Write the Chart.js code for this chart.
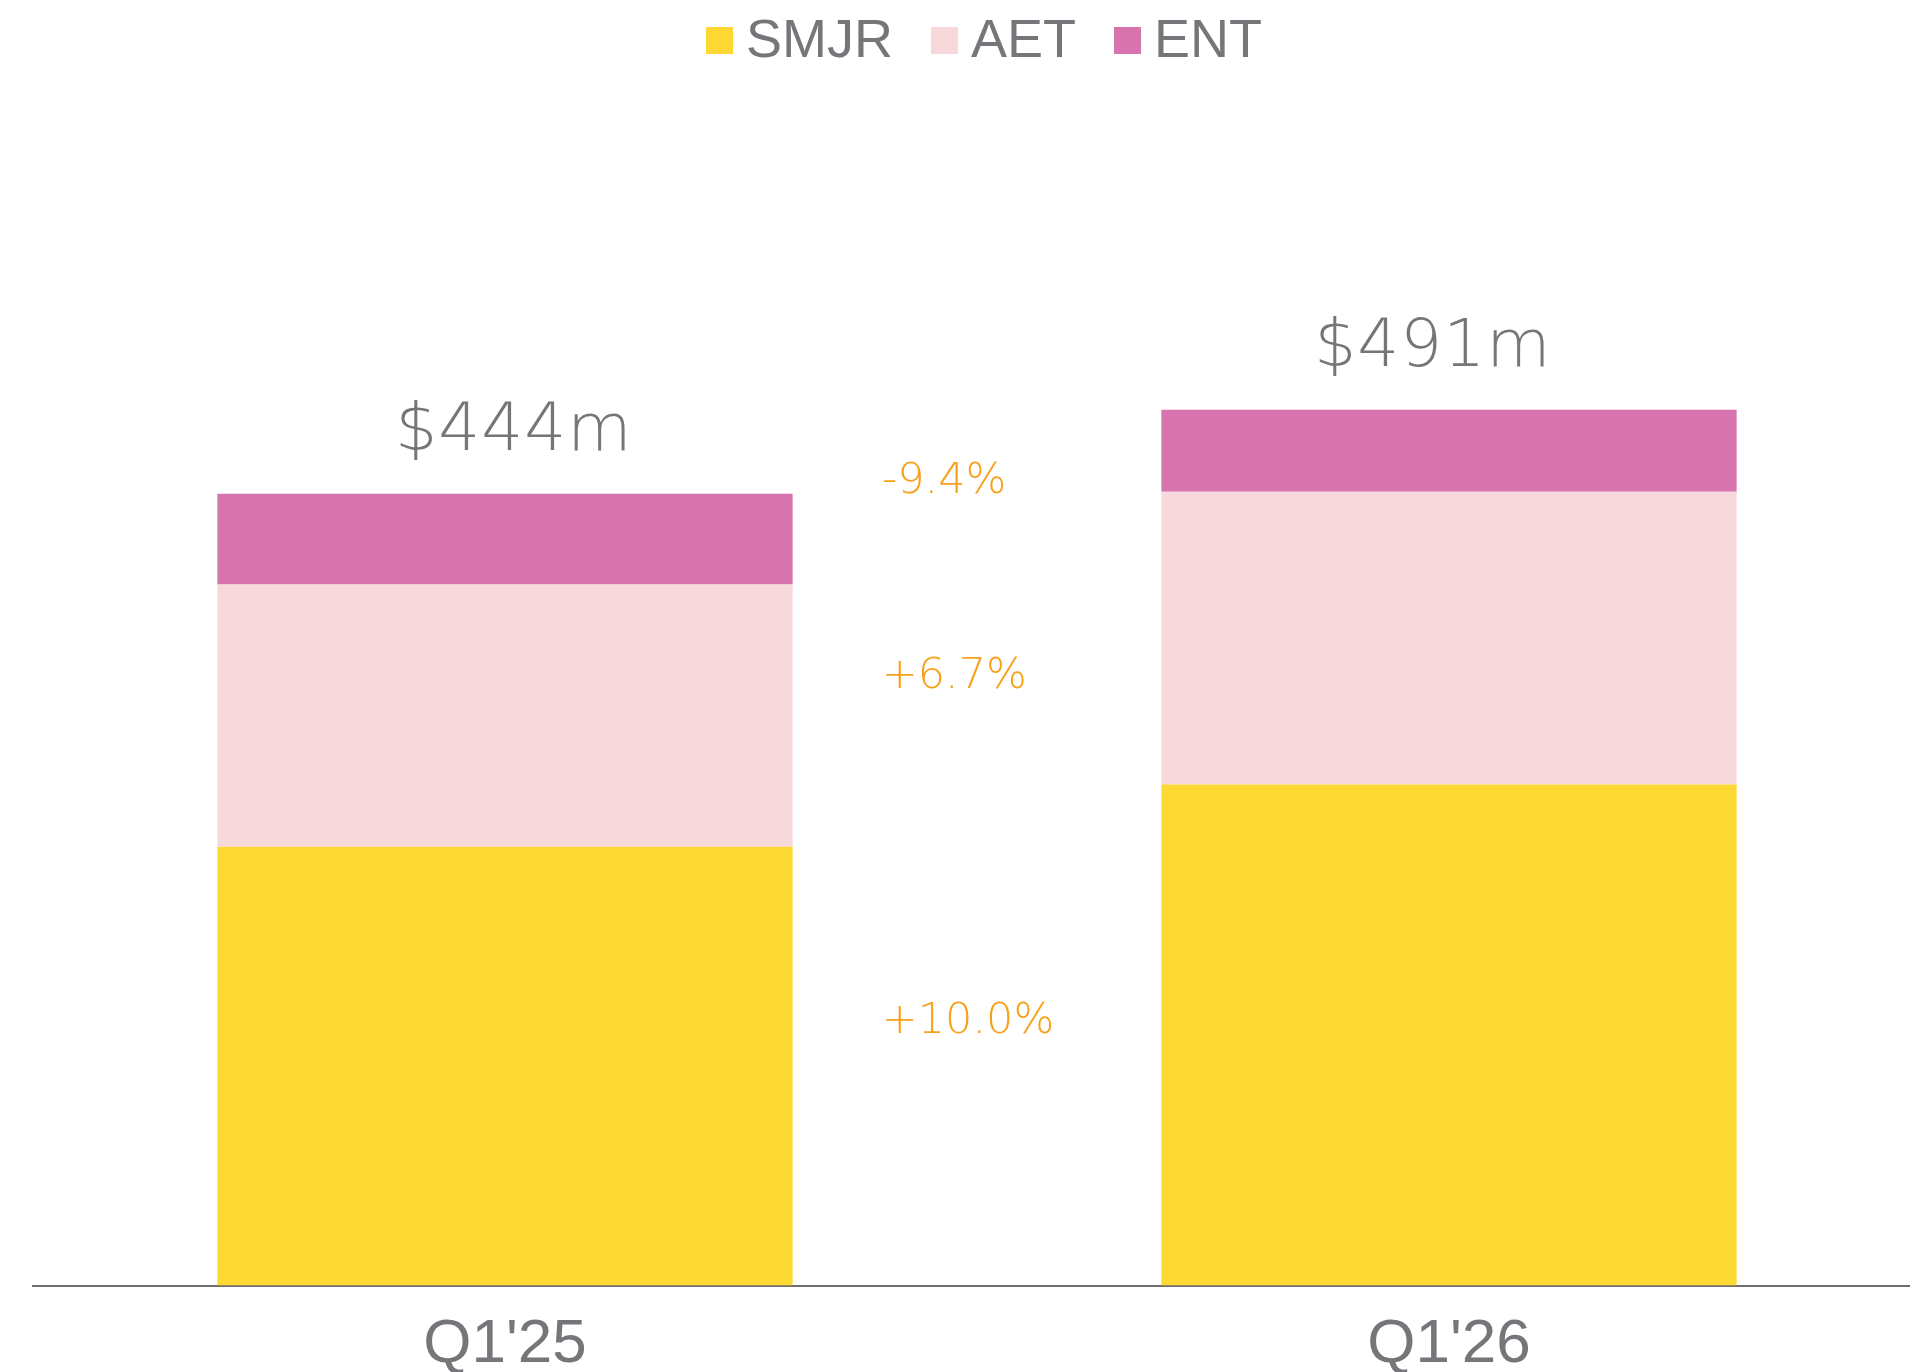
<!DOCTYPE html>
<html>
<head>
<meta charset="utf-8">
<title>Revenue by segment</title>
<script src="https://cdn.jsdelivr.net/npm/chart.js@4.4.1/dist/chart.umd.min.js"></script>
<style>
  html, body { margin: 0; padding: 0; background: #fff; overflow: hidden; }
  .wrap { position: relative; width: 1921px; height: 1404px; }
</style>
</head>
<body>
<div class="wrap"><canvas id="segmentChart" width="1921" height="1404"></canvas></div>
<script>
// Segment revenue, $m
const quarters = ["Q1'25", "Q1'26"];
const smjr = [246, 281];
const aet = [147, 164];
const ent = [51, 46];
const seriesNames = ['SMJR', 'AET', 'ENT'];
const growthLabels = ['+10.0%', '+6.7%', '-9.4%']; // SMJR, AET, ENT

(function() {
    'use strict';

    const GREY = '#76767a';
    const ORANGE = '#f7a11a';
    const LIGHT = '"DejaVu Sans ExtraLight", "DejaVu Sans Light", Inter, sans-serif';
    const colors = ['#fed833', '#f7d9dc', '#d774ad'];
    const series = [smjr, aet, ent];

    // small nudges so the labels sit where the reference has them
    const growthNudge = [-29, 0, -13];
    const totalNudge = [9, -16];

    const totals = quarters.map(function(q, i) {
        return smjr[i] + aet[i] + ent[i];
    });

    const labelsPlugin = {
        id: 'segmentLabels',
        afterDatasetsDraw: function(chart) {
            const ctx = chart.ctx;
            const y = chart.scales.y;
            const topMeta = chart.getDatasetMeta(2);

            ctx.save();

            // totals above each stack
            ctx.fillStyle = GREY;
            ctx.font = '66px ' + LIGHT;
            ctx.letterSpacing = '1px';
            ctx.textAlign = 'center';
            ctx.textBaseline = 'alphabetic';
            totals.forEach(function(t, i) {
                const bar = topMeta.data[i];
                ctx.fillText('$' + t + 'm', bar.x + totalNudge[i], y.getPixelForValue(t) - 44);
            });

            // growth labels between the bars
            const firstBar = topMeta.data[0];
            const left = firstBar.x + firstBar.width / 2 + 89;
            ctx.fillStyle = ORANGE;
            ctx.font = '43px ' + LIGHT;
            ctx.textAlign = 'left';
            ctx.textBaseline = 'middle';
            ctx.letterSpacing = '0px';
            let base = [0, 0];
            series.forEach(function(vals, s) {
                const mids = vals.map(function(v, i) {
                    const m = y.getPixelForValue(base[i] + v / 2);
                    base[i] += v;
                    return m;
                });
                const yy = (mids[0] + mids[1]) / 2 + growthNudge[s];
                ctx.fillText(growthLabels[s], left, yy);
            });
            ctx.restore();
        },
        afterDraw: function(chart) {
            // legend row along the top
            const ctx = chart.ctx;
            ctx.save();
            ctx.font = '54px "Liberation Sans", Arial, sans-serif';
            ctx.textBaseline = 'middle';
            ctx.textAlign = 'left';
            let lx = 706;
            chart.data.datasets.forEach(function(ds) {
                ctx.fillStyle = ds.backgroundColor;
                ctx.fillRect(lx, 27, 27, 27);
                ctx.fillStyle = GREY;
                ctx.fillText(ds.label, lx + 40, 42);
                lx += 40 + ctx.measureText(ds.label).width + 38;
            });
            ctx.restore();
        }
    };

    const ctx = document.getElementById('segmentChart');

    new Chart(ctx, {
        type: 'bar',
        data: {
            labels: quarters,
            datasets: series.map(function(vals, s) {
                return {
                    label: seriesNames[s],
                    data: vals,
                    backgroundColor: colors[s],
                    borderWidth: 0,
                    barPercentage: 0.6094,
                    categoryPercentage: 1.0
                };
            })
        },
        options: {
            responsive: false,
            animation: false,
            layout: {
                padding: { top: 37, left: 33, right: 0, bottom: 0 }
            },
            plugins: {
                legend: { display: false },
                tooltip: { enabled: false }
            },
            scales: {
                x: {
                    stacked: true,
                    grid: { display: false, drawTicks: false },
                    border: { display: true, color: '#6f6f73', width: 2 },
                    ticks: {
                        color: GREY,
                        padding: 22,
                        font: { family: '"Liberation Sans", Arial, sans-serif', size: 62 }
                    }
                },
                y: {
                    stacked: true,
                    display: false,
                    min: 0,
                    max: 700
                }
            }
        },
        plugins: [labelsPlugin]
    });
})();
</script>
</body>
</html>
